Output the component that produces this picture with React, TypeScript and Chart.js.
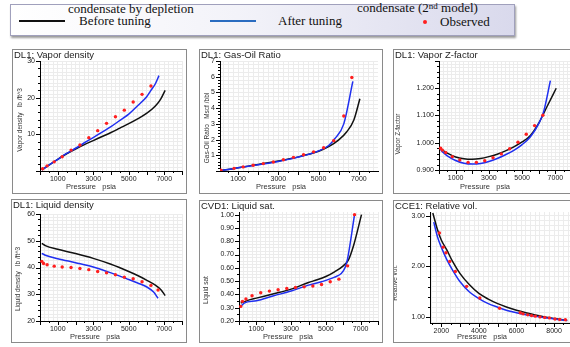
import React, { useEffect, useRef } from "react";
import { Chart, registerables } from "chart.js";

Chart.register(...registerables);

// ---------------- data ----------------
// DL1: Vapor density (lb/ft^3) vs pressure (psia)
const vdBeforeP = [100, 500, 1000, 1500, 2000, 2500, 3000, 3500, 4000, 4500, 5000, 5500, 6000, 6500, 6800, 7050];
const vdBefore = [0.3, 1.6, 3.2, 4.7, 6.0, 7.2, 8.3, 9.4, 10.5, 11.7, 12.9, 14.2, 15.7, 17.7, 19.6, 22.0];
const vdAfterP = [100, 500, 1000, 1500, 2000, 2500, 3000, 3500, 4000, 4500, 5000, 5500, 6000, 6250, 6500, 6700];
const vdAfter = [0.3, 1.6, 3.2, 4.8, 6.2, 7.7, 9.1, 10.6, 12.1, 13.8, 15.5, 17.8, 20.2, 22.0, 23.8, 26.0];
const vdObsP = [150, 400, 800, 1250, 1750, 2250, 2750, 3250, 3750, 4250, 4750, 5250, 5750, 6250];
const vdObs = [0.6, 1.4, 2.5, 3.9, 5.7, 7.1, 9.1, 11.0, 13.0, 14.8, 16.6, 18.8, 20.9, 23.2];

// DL1: Gas-Oil Ratio (Mscf/bbl)
const gorBeforeP = [100, 500, 1000, 1500, 2000, 2500, 3000, 3500, 4000, 4500, 5000, 5500, 6000, 6400, 6750, 7050];
const gorBefore = [0.02, 0.1, 0.2, 0.31, 0.42, 0.52, 0.63, 0.76, 0.9, 1.06, 1.26, 1.55, 1.98, 2.5, 3.25, 4.6];
const gorAfterP = [100, 500, 1000, 1500, 2000, 2500, 3000, 3500, 4000, 4500, 5000, 5500, 5800, 6250, 6700];
const gorAfter = [0.02, 0.1, 0.2, 0.3, 0.4, 0.5, 0.61, 0.74, 0.89, 1.06, 1.28, 1.62, 2.05, 3.0, 5.7];
const gorObsP = [150, 800, 1250, 1750, 2250, 2750, 3250, 3750, 4250, 4750, 5250, 5750, 6250, 6650];
const gorObs = [0.05, 0.17, 0.26, 0.37, 0.47, 0.57, 0.72, 0.87, 1.03, 1.22, 1.48, 1.93, 3.5, 5.95];

// DL1: Vapor Z-factor
const zBeforeP = [100, 500, 1000, 1500, 2000, 2500, 3000, 3500, 4000, 4500, 5000, 5500, 6000, 6500, 7050];
const zBefore = [0.978, 0.962, 0.948, 0.941, 0.939, 0.942, 0.949, 0.958, 0.97, 0.985, 1.003, 1.027, 1.072, 1.133, 1.2];
const zAfterP = [100, 500, 1000, 1500, 2000, 2500, 3000, 3500, 4000, 4500, 5000, 5500, 6000, 6300, 6700];
const zAfter = [0.973, 0.952, 0.935, 0.925, 0.922, 0.924, 0.931, 0.942, 0.956, 0.972, 0.993, 1.022, 1.07, 1.115, 1.228];
const zObsP = [100, 200, 400, 800, 1250, 1750, 2250, 2750, 3250, 3750, 4250, 4750, 5250, 5750, 6250];
const zObs = [0.98, 0.973, 0.964, 0.949, 0.937, 0.928, 0.928, 0.934, 0.945, 0.959, 0.978, 1.002, 1.031, 1.063, 1.101];

// DL1: Liquid density (lb/ft^3)
const ldBeforeP = [100, 300, 1000, 2000, 3000, 4000, 5000, 5500, 6000, 6500, 6800, 7050];
const ldBefore = [49.0, 48.2, 46.8, 45.2, 43.4, 41.2, 38.5, 37.0, 35.3, 33.4, 31.8, 29.5];
const ldAfterP = [100, 300, 1000, 2000, 3000, 4000, 5000, 5500, 6000, 6400, 6650];
const ldAfter = [45.3, 44.6, 43.3, 41.8, 40.2, 38.0, 35.5, 34.2, 32.8, 30.8, 28.5];
const ldObsP = [100, 200, 400, 800, 1250, 1750, 2250, 2750, 3250, 3750, 4250, 4750, 5250, 5750, 6250, 6650];
const ldObs = [42.3, 41.5, 41.0, 40.5, 40.2, 40.0, 39.6, 39.2, 38.5, 38.0, 37.3, 36.4, 35.8, 34.7, 33.3, 31.6];

// CVD1: Liquid saturation
const lsBeforeP = [100, 500, 1000, 2000, 3000, 4000, 4500, 5000, 5500, 6000, 6300, 6600, 7050];
const lsBefore = [0.335, 0.355, 0.372, 0.405, 0.44, 0.49, 0.51, 0.535, 0.57, 0.615, 0.66, 0.77, 1.0];
const lsAfterP = [100, 300, 1000, 2000, 3000, 4000, 4750, 5500, 5900, 6100, 6250, 6650];
const lsAfter = [0.31, 0.335, 0.352, 0.39, 0.425, 0.47, 0.495, 0.53, 0.56, 0.6, 0.67, 1.0];
const lsObsP = [100, 200, 400, 750, 1250, 1750, 2250, 2750, 3250, 3750, 4250, 4750, 5250, 5750, 6250, 6650];
const lsObs = [0.31, 0.348, 0.365, 0.39, 0.412, 0.425, 0.435, 0.445, 0.452, 0.457, 0.463, 0.475, 0.495, 0.515, 0.615, 1.0];

// CCE1: Relative volume
const rvBeforeP = [1550, 1800, 2000, 2300, 2600, 3000, 3500, 4000, 4500, 5000, 5500, 6000, 6500, 7000, 7500, 8000, 8700];
const rvBefore = [3.05, 2.72, 2.52, 2.32, 2.1, 1.86, 1.64, 1.47, 1.36, 1.27, 1.2, 1.14, 1.09, 1.045, 1.01, 0.98, 0.94];
const rvAfterP = [1600, 1800, 2000, 2300, 2600, 3000, 3500, 4000, 4500, 5000, 5500, 6000, 6500, 7000, 7500, 8000, 8700];
const rvAfter = [2.87, 2.58, 2.38, 2.13, 1.93, 1.7, 1.5, 1.37, 1.27, 1.2, 1.135, 1.09, 1.05, 1.02, 0.995, 0.97, 0.94];
const rvObsP = [1900, 2100, 2250, 2450, 2750, 3350, 4050, 5100, 6200, 6350, 6600, 6800, 7000, 7250, 7500, 7750, 8050, 8300, 8600];
const rvObs = [2.66, 2.38, 2.27, 2.1, 1.9, 1.61, 1.38, 1.18, 1.09, 1.07, 1.05, 1.035, 1.025, 1.01, 1.0, 0.99, 0.97, 0.96, 0.955];

// tick labels
const pressureLabels = [1000, 3000, 5000, 7000];
const cceLabels = [2000, 4000, 6000, 8000];
const vdLabels = [10, 20, 30];
const gorLabels = [1, 2, 3, 4, 5, 6, 7];
const zLabels = [0.9, 1.0, 1.1, 1.2];
const ldLabels = [20, 30, 40, 50, 60];
const lsLabels = [0.2, 0.3, 0.4, 0.5, 0.6, 0.7, 0.8, 0.9, 1.0];
const rvLabels = [1, 2, 3];

// ---------------- layout / style ----------------
const SANS = "'Liberation Sans', Arial, sans-serif";
const SERIF = "'Liberation Serif', 'Times New Roman', serif";
const C_BEFORE = "#111111";
const C_AFTER = "#1f2ff0";
const C_OBS = "#ff1f1f";

type Axis = { min: number; max: number; grid: number; minor: number; major: number; labels: number[]; dec: number };
type Spec = {
  title: string;
  yName: string;
  box: number[];
  plot: number[];
  x: Axis;
  y: Axis;
  xTitlePos: number[];
  yTitlePos: number[];
  before: [number[], number[]];
  after: [number[], number[]];
  obs: [number[], number[]];
};

const pAxis = (min: number, max: number): Axis => ({ min, max, grid: 250, minor: 500, major: 1000, labels: pressureLabels, dec: 0 });

const specs: Spec[] = [
  {
    title: "DL1: Vapor density", yName: "Vapor density   lb /ft^3",
    box: [12, 49, 175, 145], plot: [40, 61, 184, 171],
    x: pAxis(0, 8000),
    y: { min: 0, max: 30, grid: 1, minor: 2, major: 10, labels: vdLabels, dec: 0 },
    xTitlePos: [91, 187], yTitlePos: [20, 120],
    before: [vdBeforeP, vdBefore], after: [vdAfterP, vdAfter], obs: [vdObsP, vdObs],
  },
  {
    title: "DL1: Gas-Oil Ratio", yName: "Gas-Oil Ratio   Mscf /bbl",
    box: [199, 49, 184, 145], plot: [220, 61, 379, 171],
    x: pAxis(100, 7950),
    y: { min: 0, max: 7, grid: 0.25, minor: 0.2, major: 1, labels: gorLabels, dec: 0 },
    xTitlePos: [281, 187], yTitlePos: [207, 128],
    before: [gorBeforeP, gorBefore], after: [gorAfterP, gorAfter], obs: [gorObsP, gorObs],
  },
  {
    title: "DL1: Vapor Z-factor", yName: "Vapor Z-factor",
    box: [393, 49, 185, 145], plot: [439, 61, 572, 170],
    x: pAxis(0, 8000),
    y: { min: 0.9, max: 1.3, grid: 0.0125, minor: 0.02, major: 0.1, labels: zLabels, dec: 3 },
    xTitlePos: [485, 187], yTitlePos: [398, 134],
    before: [zBeforeP, zBefore], after: [zAfterP, zAfter], obs: [zObsP, zObs],
  },
  {
    title: "DL1: Liquid density", yName: "Liquid density   lb /ft^3",
    box: [11, 199, 176, 144], plot: [40, 214, 184, 321],
    x: pAxis(0, 8000),
    y: { min: 20, max: 60, grid: 1.25, minor: 2, major: 10, labels: ldLabels, dec: 0 },
    xTitlePos: [95, 337], yTitlePos: [18, 279],
    before: [ldBeforeP, ldBefore], after: [ldAfterP, ldAfter], obs: [ldObsP, ldObs],
  },
  {
    title: "CVD1: Liquid sat.", yName: "Liquid sat",
    box: [199, 200, 184, 143], plot: [239, 212, 380, 321],
    x: pAxis(0, 8000),
    y: { min: 0.2, max: 1.02, grid: 0.025, minor: 0.05, major: 0.1, labels: lsLabels, dec: 2 },
    xTitlePos: [288, 337], yTitlePos: [206, 290],
    before: [lsBeforeP, lsBefore], after: [lsAfterP, lsAfter], obs: [lsObsP, lsObs],
  },
  {
    title: "CCE1: Relative vol.", yName: "Relative vol.",
    box: [393, 200, 185, 143], plot: [430, 212, 571, 323],
    x: { min: 1400, max: 8900, grid: 250, minor: 500, major: 1000, labels: cceLabels, dec: 0 },
    y: { min: 0.89, max: 3.07, grid: 0.1, minor: 0.2, major: 1, labels: rvLabels, dec: 2 },
    xTitlePos: [482, 337], yTitlePos: [395, 283],
    before: [rvBeforeP, rvBefore], after: [rvAfterP, rvAfter], obs: [rvObsP, rvObs],
  },
];

function multiples(min: number, max: number, step: number): number[] {
  const out: number[] = [];
  const k0 = Math.ceil(min / step - 1e-7);
  const k1 = Math.floor(max / step + 1e-7);
  for (let k = k0; k <= k1; k++) out.push(Math.round(k * step * 1e6) / 1e6);
  return out;
}
const isIn = (v: number, arr: number[]) => arr.some((a) => Math.abs(a - v) < 1e-6);
const isMult = (v: number, step: number) => Math.abs(v / step - Math.round(v / step)) < 1e-6;
const pts = (s: [number[], number[]]) => s[0].map((x, i) => ({ x, y: s[1][i] }));

function Panel({ spec }: { spec: Spec }) {
  const ref = useRef<HTMLCanvasElement>(null);
  const [L, T, W, H] = spec.box;
  const cw = W - 2;
  const ch = H - 2;
  const ox = L + 1;
  const oy = T + 1;

  useEffect(() => {
    const canvas = ref.current;
    if (!canvas) return;
    const pl = spec.plot[0] - ox;
    const pt = spec.plot[1] - oy;
    const pr = spec.plot[2] - ox;
    const pb = spec.plot[3] - oy;

    const decor = {
      id: "decor",
      afterDraw(chart: any) {
        const ctx = chart.ctx as CanvasRenderingContext2D;
        const xs = chart.scales.x;
        const ys = chart.scales.y;
        const a = chart.chartArea;
        ctx.save();
        ctx.strokeStyle = "#000";
        ctx.lineWidth = 1;
        ctx.beginPath();
        for (const v of multiples(spec.x.min, spec.x.max, spec.x.minor)) {
          const px = Math.round(xs.getPixelForValue(v)) + 0.5;
          const len = isMult(v, spec.x.major) ? 4 : 2;
          ctx.moveTo(px, a.bottom);
          ctx.lineTo(px, a.bottom + len);
        }
        for (const v of multiples(spec.y.min, spec.y.max, spec.y.minor)) {
          const py = Math.round(ys.getPixelForValue(v)) + 0.5;
          const len = isMult(v, spec.y.major) ? 4 : 2;
          ctx.moveTo(a.left, py);
          ctx.lineTo(a.left - len, py);
        }
        ctx.stroke();

        ctx.fillStyle = "#222";
        ctx.font = `9.5px ${SANS}`;
        ctx.textAlign = "left";
        ctx.textBaseline = "top";
        ctx.fillText(spec.title, 1, 1);

        ctx.fillStyle = "#333";
        ctx.font = `7.5px ${SANS}`;
        ctx.textAlign = "center";
        ctx.textBaseline = "middle";
        ctx.fillText("Pressure   psia", spec.xTitlePos[0] - ox, spec.xTitlePos[1] - oy);

        ctx.save();
        ctx.translate(spec.yTitlePos[0] - ox, spec.yTitlePos[1] - oy);
        ctx.rotate(-Math.PI / 2);
        ctx.font = `6.5px ${SANS}`;
        ctx.fillText(spec.yName, 0, 0);
        ctx.restore();
        ctx.restore();
      },
    };

    const axisOpts = (ax: Axis, horizontal: boolean) => ({
      type: "linear" as const,
      min: ax.min,
      max: ax.max,
      afterBuildTicks: (s: any) => {
        s.ticks = multiples(ax.min, ax.max, ax.grid).map((value) => ({ value }));
      },
      afterFit: (s: any) => {
        if (horizontal) s.height = ch - pb;
        else s.width = pl;
      },
      grid: { color: "#ececec", lineWidth: 1, drawTicks: false },
      border: { display: true, color: "#000", width: 1 },
      ticks: {
        autoSkip: false,
        maxRotation: 0,
        minRotation: 0,
        padding: horizontal ? 4 : 5,
        color: "#222",
        font: { family: SANS, size: 7 },
        callback: (v: any) => (isIn(Number(v), ax.labels) ? Number(v).toFixed(ax.dec) : ""),
      },
    });

    const chart = new Chart(canvas, {
      type: "scatter",
      data: {
        datasets: [
          {
            label: "Observed",
            data: pts(spec.obs),
            showLine: false,
            pointRadius: 1.7,
            pointBorderWidth: 0,
            pointBackgroundColor: C_OBS,
            backgroundColor: C_OBS,
          },
          {
            label: "After tuning",
            data: pts(spec.after),
            showLine: true,
            borderColor: C_AFTER,
            borderWidth: 1.5,
            pointRadius: 0,
            cubicInterpolationMode: "monotone",
          },
          {
            label: "Before tuning",
            data: pts(spec.before),
            showLine: true,
            borderColor: C_BEFORE,
            borderWidth: 1.5,
            pointRadius: 0,
            cubicInterpolationMode: "monotone",
          },
        ],
      },
      options: {
        responsive: false,
        animation: false,
        devicePixelRatio: 1,
        events: [],
        layout: { padding: { left: 0, top: pt, right: cw - pr, bottom: 0 } },
        plugins: { legend: { display: false }, tooltip: { enabled: false }, title: { display: false } },
        scales: { x: axisOpts(spec.x, true) as any, y: axisOpts(spec.y, false) as any },
      },
      plugins: [decor],
    });
    return () => chart.destroy();
  }, []);

  return (
    <div
      style={{
        position: "absolute",
        left: L,
        top: T,
        width: W,
        height: H,
        boxSizing: "border-box",
        border: "1px solid #8a8a8a",
        background: "#fff",
      }}
    >
      <canvas ref={ref} width={cw} height={ch} style={{ position: "absolute", left: 0, top: 0, width: cw, height: ch }} />
    </div>
  );
}

function Legend() {
  const txt: React.CSSProperties = {
    position: "absolute",
    font: `13px ${SERIF}`,
    lineHeight: "16px",
    color: "#111",
    whiteSpace: "nowrap",
  };
  return (
    <>
      <div
        style={{
          position: "absolute",
          left: 10,
          top: 4,
          width: 505,
          height: 32,
          boxSizing: "border-box",
          border: "1px solid #a0a0bc",
          background: "linear-gradient(to right, #ffffff 0%, #f3f3f9 45%, #d9d9ec 100%)",
          boxShadow: "1px 2px 2px #9a9a9a",
        }}
      />
      <div style={{ ...txt, left: 68, top: 1 }}>condensate by depletion</div>
      <div style={{ ...txt, left: 357, top: 0 }}>
        condensate (2<sup style={{ fontSize: 9, verticalAlign: "top", lineHeight: "12px" }}>nd</sup> model)
      </div>
      <div style={{ position: "absolute", left: 19, top: 20, width: 46, height: 2, background: C_BEFORE }} />
      <div style={{ ...txt, left: 79, top: 13 }}>Before tuning</div>
      <div style={{ position: "absolute", left: 210, top: 20, width: 46, height: 2, background: "#2a6cc0" }} />
      <div style={{ ...txt, left: 278, top: 13 }}>After tuning</div>
      <div style={{ position: "absolute", left: 423, top: 20, width: 4, height: 4, borderRadius: 2, background: C_OBS }} />
      <div style={{ ...txt, left: 440, top: 14 }}>Observed</div>
    </>
  );
}

export default function App() {
  return (
    <div style={{ position: "absolute", left: 0, top: 0, width: 570, height: 347, overflow: "hidden", background: "#fff" }}>
      <Legend />
      {specs.map((s, i) => (
        <Panel key={i} spec={s} />
      ))}
    </div>
  );
}
